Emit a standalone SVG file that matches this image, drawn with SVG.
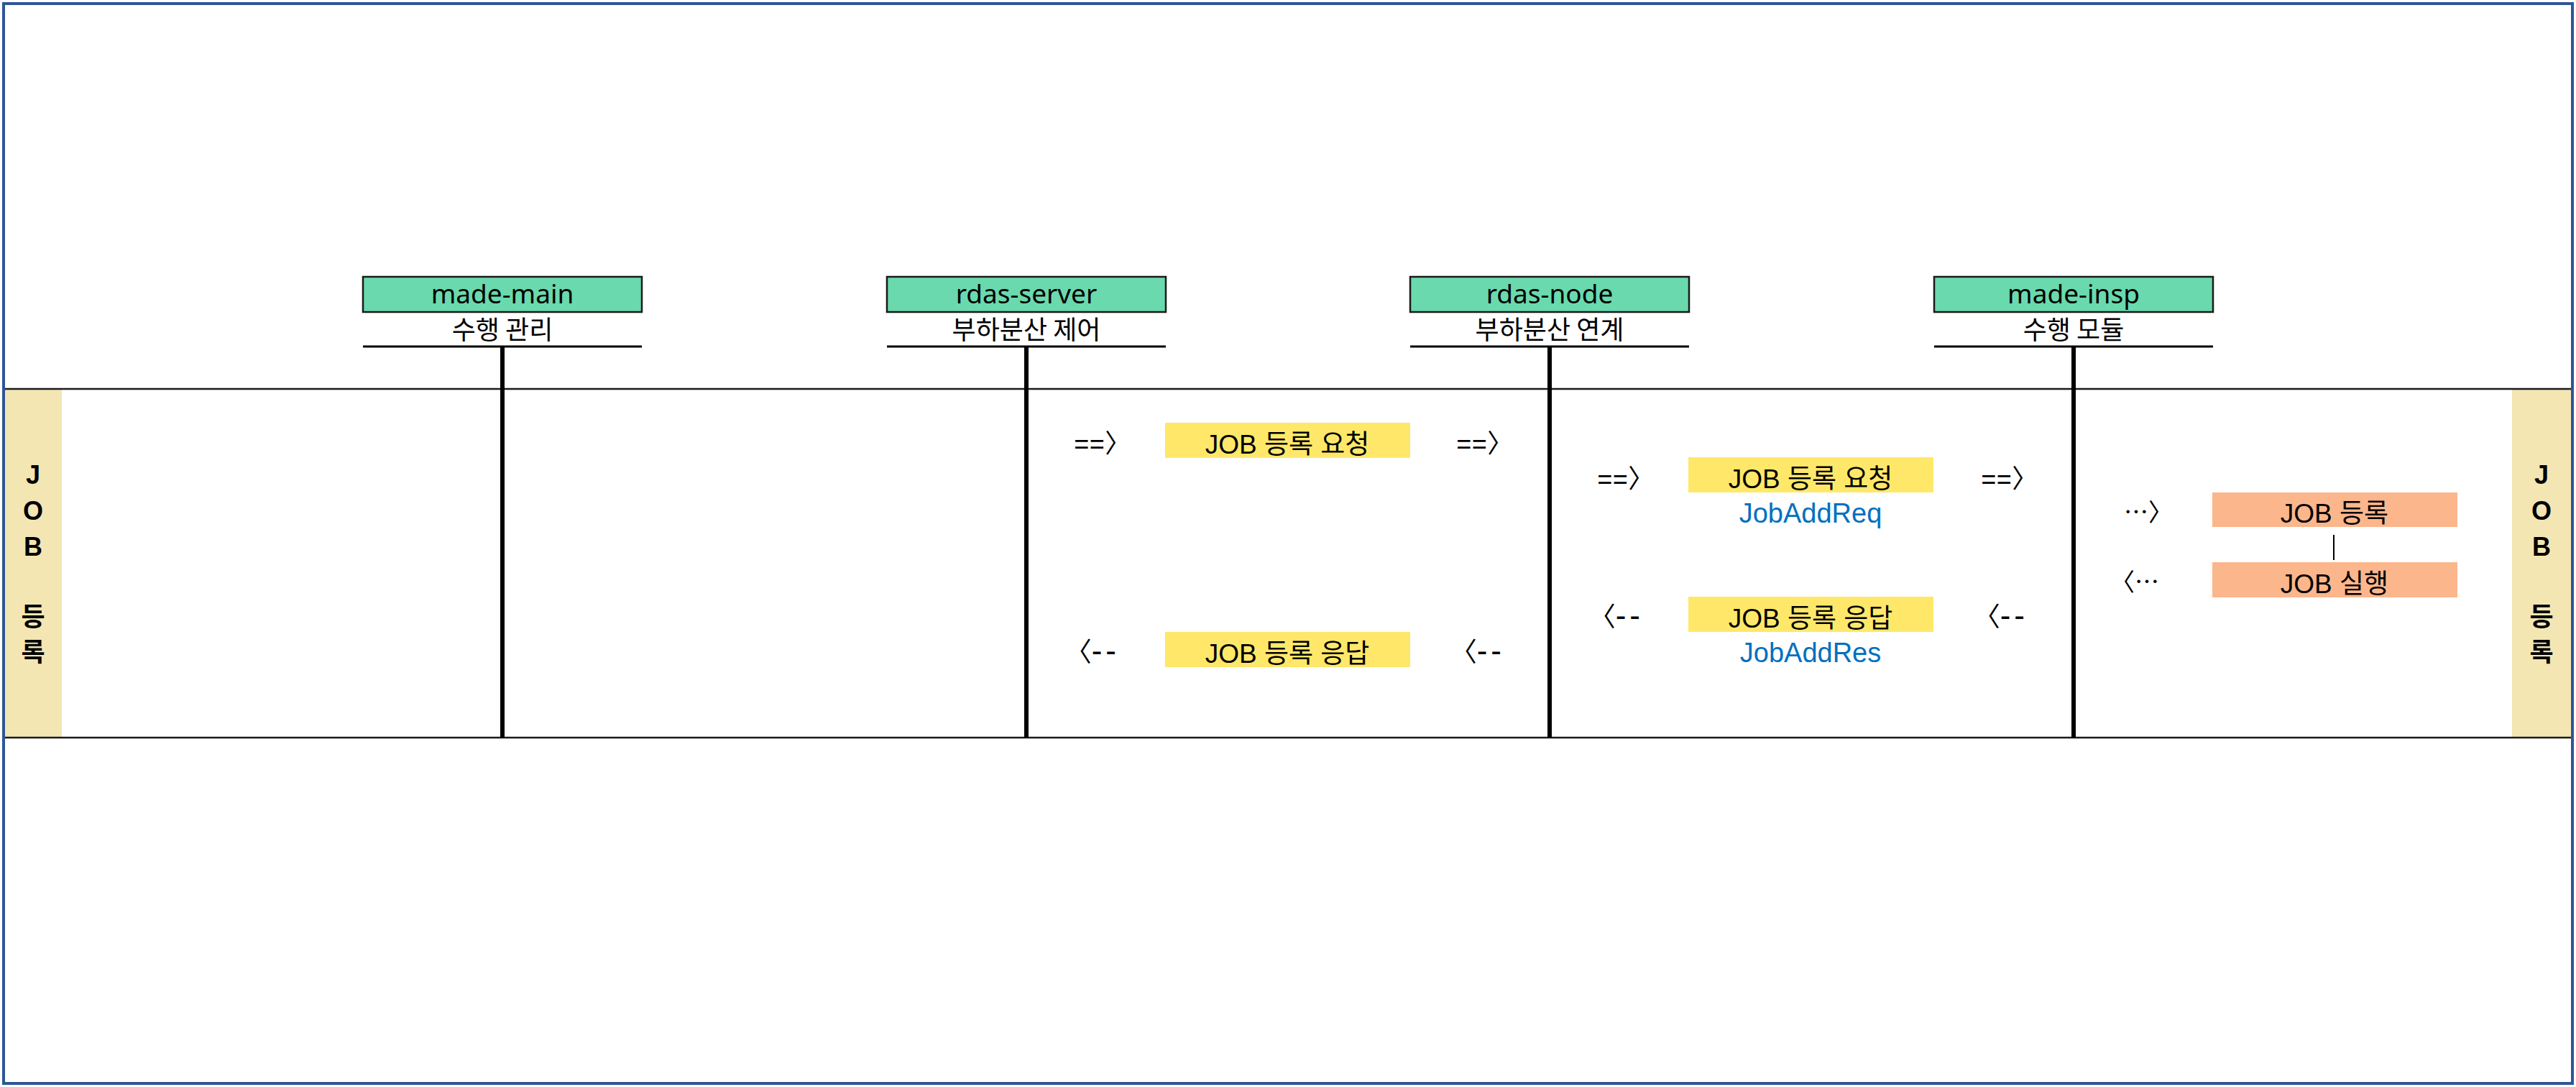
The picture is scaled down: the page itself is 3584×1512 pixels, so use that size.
<svg xmlns="http://www.w3.org/2000/svg" width="3584" height="1512" viewBox="0 0 3584 1512">
<style>
.frame{fill:#ffffff;stroke:#2f5597;stroke-width:4}
.lane{stroke:#1a1a1a;stroke-width:2.5}
.band{fill:#f3e6b3}
.nbox{fill:#6ad9ad;stroke:#1a1a1a;stroke-width:2.5}
.uline{stroke:#000;stroke-width:3}
.life{stroke:#000;stroke-width:6}
.ylw{fill:#ffe869}
.org{fill:#fcb68c}
.t{font-family:"Liberation Sans","Noto Sans CJK KR",sans-serif;fill:#000}
.title{font-family:"Noto Sans","Noto Sans CJK KR",sans-serif;font-size:37px;fill:#000;text-anchor:middle}
.sub{font-family:"Noto Sans CJK KR",sans-serif;font-size:36px;fill:#000;text-anchor:middle}
.lbl{font-size:37px;text-anchor:middle}
.code{font-family:"Liberation Sans",sans-serif;font-size:38px;fill:#0070c0;text-anchor:middle}
.arr{font-family:"Liberation Mono","Noto Sans CJK KR",monospace;font-size:36px;fill:#000}
.arrl{font-family:"Liberation Sans","Noto Sans CJK KR",sans-serif;font-size:37px;fill:#000;text-anchor:end}
.dash{font-size:44px;letter-spacing:5px}
.arrc{font-family:"Noto Sans CJK KR",sans-serif;font-size:34px;fill:#000}
.vt{font-family:"Liberation Sans","Noto Sans CJK KR",sans-serif;font-size:36px;font-weight:700;fill:#000;text-anchor:middle}
.link{stroke:#000;stroke-width:2}
</style>
<rect class="frame" x="5" y="5" width="3574" height="1502"/>

<g id="swimlane">
<rect class="band" x="7" y="541" width="79" height="484"/>
<rect class="band" x="3495" y="541" width="82" height="484"/>
<line class="lane" x1="7" y1="541" x2="3577" y2="541"/>
<line class="lane" x1="7" y1="1026" x2="3577" y2="1026"/>
<text class="vt" x="46"><tspan x="46" y="673">J</tspan><tspan x="46" y="723">O</tspan><tspan x="46" y="773">B</tspan><tspan x="46" y="871">등</tspan><tspan x="46" y="920">록</tspan></text>
<text class="vt" x="3536"><tspan x="3536" y="673">J</tspan><tspan x="3536" y="723">O</tspan><tspan x="3536" y="773">B</tspan><tspan x="3536" y="871">등</tspan><tspan x="3536" y="920">록</tspan></text>
</g>

<g id="node-made-main">
<rect class="nbox" x="505" y="385" width="388" height="49"/>
<text class="title" x="699" y="422">made-main</text>
<text class="sub" x="699" y="472">수행 관리</text>
<line class="uline" x1="505" y1="482" x2="893" y2="482"/>
</g>
<g id="node-rdas-server">
<rect class="nbox" x="1234" y="385" width="388" height="49"/>
<text class="title" x="1428" y="422">rdas-server</text>
<text class="sub" x="1428" y="472">부하분산 제어</text>
<line class="uline" x1="1234" y1="482" x2="1622" y2="482"/>
</g>
<g id="node-rdas-node">
<rect class="nbox" x="1962" y="385" width="388" height="49"/>
<text class="title" x="2156" y="422">rdas-node</text>
<text class="sub" x="2156" y="472">부하분산 연계</text>
<line class="uline" x1="1962" y1="482" x2="2350" y2="482"/>
</g>
<g id="node-made-insp">
<rect class="nbox" x="2691" y="385" width="388" height="49"/>
<text class="title" x="2885" y="422">made-insp</text>
<text class="sub" x="2885" y="472">수행 모듈</text>
<line class="uline" x1="2691" y1="482" x2="3079" y2="482"/>
</g>

<g id="lifelines">
<line class="life" x1="699" y1="482" x2="699" y2="1026"/>
<line class="life" x1="1428" y1="482" x2="1428" y2="1026"/>
<line class="life" x1="2156" y1="482" x2="2156" y2="1026"/>
<line class="life" x1="2885" y1="482" x2="2885" y2="1026"/>
</g>

<g id="msg-server-req">
<rect class="ylw" x="1621" y="588" width="341" height="49"/>
<text class="t lbl" x="1791" y="631">JOB 등록 요청</text>
</g>
<g id="msg-server-res">
<rect class="ylw" x="1621" y="879" width="341" height="49"/>
<text class="t lbl" x="1791" y="922">JOB 등록 응답</text>
</g>
<g id="msg-node-req">
<rect class="ylw" x="2349" y="636" width="341" height="49"/>
<text class="t lbl" x="2519" y="679">JOB 등록 요청</text>
<text class="code" x="2519" y="727">JobAddReq</text>
</g>
<g id="msg-node-res">
<rect class="ylw" x="2349" y="830" width="341" height="49"/>
<text class="t lbl" x="2519" y="873">JOB 등록 응답</text>
<text class="code" x="2519" y="921">JobAddRes</text>
</g>
<g id="step-job-add">
<rect class="org" x="3078" y="685" width="341" height="48"/>
<text class="t lbl" x="3248" y="727">JOB 등록</text>
</g>
<g id="step-job-run">
<rect class="org" x="3078" y="782" width="341" height="49"/>
<text class="t lbl" x="3248" y="825">JOB 실행</text>
</g>

<g id="connectors">
<line class="link" x1="3247" y1="744" x2="3247" y2="779"/>
<text class="arr" x="1494" y="630">==〉</text>
<text class="arr" x="2026" y="630">==〉</text>
<text class="arr" x="2222" y="679">==〉</text>
<text class="arr" x="2756" y="679">==〉</text>
<text class="arrl" x="1558" y="920">〈<tspan class="dash">--</tspan></text>
<text class="arrl" x="2094" y="920">〈<tspan class="dash">--</tspan></text>
<text class="arrl" x="2287" y="871">〈<tspan class="dash">--</tspan></text>
<text class="arrl" x="2822" y="871">〈<tspan class="dash">--</tspan></text>
<text class="arrc" x="2955" y="725">…〉</text>
<text class="arrc" x="3004" y="822" text-anchor="end">〈…</text>
</g>
</svg>
